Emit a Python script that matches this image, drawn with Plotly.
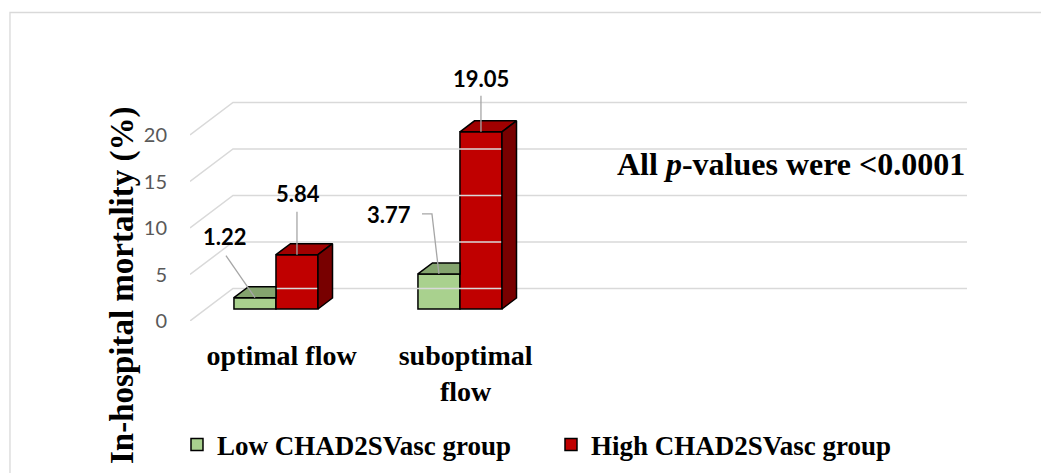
import plotly.graph_objects as go

# ---------------- data ----------------
CATEGORIES = ["optimal flow", "suboptimal flow"]
CATEGORY_LABELS = ["optimal flow", "suboptimal<br>flow"]
SERIES_NAMES = ["Low CHAD2SVasc group", "High CHAD2SVasc group"]
LOW_VALUES = [1.22, 3.77]
HIGH_VALUES = [5.84, 19.05]
Y_TICKS = [0, 5, 10, 15, 20]
NOTE_TEXT = "All <i>p</i>-values were &lt;0.0001"
Y_TITLE = "In-hospital mortality (%)"

# ---------------- pseudo-3D geometry (style) ----------------
DX = 0.2337      # full floor depth, horizontal (x units)
DY = 3.5         # full floor depth, vertical (value units)
D1 = 0.369       # depth fraction of bar front faces
D2 = 0.707       # depth fraction of bar back faces
BAR_W = 0.2283
X_RANGE = [-0.381, 3.842]
Y_RANGE = [0, 24.516]

GREEN = "#A9D18E"
GREEN_TOP = "#84A46E"
RED = "#C00000"
RED_TOP = "#A00000"
RED_SIDE = "#780000"
GRID = "#D9D9D9"
LEADER = "#A6A6A6"
OUTLINE = dict(color="black", width=1.5)

SERIF = "Liberation Serif"
SANS = "Lato"

fig = go.Figure()

# back wall gridlines + floor-side diagonals
gx, gy = [], []
for v in Y_TICKS:
    gx += [X_RANGE[0], X_RANGE[0] + DX, X_RANGE[1], None]
    gy += [v, v + DY, v + DY, None]
fig.add_trace(go.Scatter(x=gx, y=gy, mode="lines", line=dict(color=GRID, width=1.5),
                         hoverinfo="skip", showlegend=False))

n = len(CATEGORIES)
xs = list(range(n))

# front faces as bars
fig.add_trace(go.Bar(x=[i + D1 * DX for i in xs], y=LOW_VALUES, base=D1 * DY,
                     offset=-BAR_W, width=BAR_W, name=SERIES_NAMES[0],
                     marker=dict(color=GREEN, line=OUTLINE)))
fig.add_trace(go.Bar(x=[i + D1 * DX for i in xs], y=HIGH_VALUES, base=D1 * DY,
                     offset=0, width=BAR_W, name=SERIES_NAMES[1],
                     marker=dict(color=RED, line=OUTLINE)))


def face(px, py, color):
    fig.add_trace(go.Scatter(x=px + [px[0]], y=py + [py[0]], mode="lines", fill="toself",
                             fillcolor=color, line=OUTLINE, hoverinfo="skip",
                             showlegend=False))


for i in xs:
    # low bar top face (the part not hidden by the taller high bar)
    xl, xr, v = i - BAR_W, i, LOW_VALUES[i]
    if HIGH_VALUES[i] >= v:
        face([xl + D1 * DX, xr + D1 * DX, xr + D1 * DX, xl + D2 * DX],
             [v + D1 * DY, v + D1 * DY, v + D2 * DY, v + D2 * DY], GREEN_TOP)
    else:
        face([xl + D1 * DX, xr + D1 * DX, xr + D2 * DX, xl + D2 * DX],
             [v + D1 * DY, v + D1 * DY, v + D2 * DY, v + D2 * DY], GREEN_TOP)
    # high bar top + side faces
    xl, xr, v = i, i + BAR_W, HIGH_VALUES[i]
    face([xl + D1 * DX, xr + D1 * DX, xr + D2 * DX, xl + D2 * DX],
         [v + D1 * DY, v + D1 * DY, v + D2 * DY, v + D2 * DY], RED_TOP)
    face([xr + D1 * DX, xr + D2 * DX, xr + D2 * DX, xr + D1 * DX],
         [D1 * DY, D2 * DY, v + D2 * DY, v + D1 * DY], RED_SIDE)

# data labels (pixel shift from the bar's top-front centre) and leader-line paths
LABEL_SHIFTS = {("low", 0): (-30, 61), ("high", 0): (1, 61),
                ("low", 1): (-50, 59), ("high", 1): (0, 53)}
LEADER_PATHS = {("low", 0): "M -29,42 L 0,0", ("high", 0): "M 0,43 L 0,0",
                ("low", 1): "M -17,60 L -7,60 L 0,0", ("high", 1): "M 0,36 L 0,0"}
for i in xs:
    for key, vals, cx in (("low", LOW_VALUES, i - BAR_W / 2), ("high", HIGH_VALUES, i + BAR_W / 2)):
        px_, py_ = cx + D1 * DX, vals[i] + D1 * DY
        sx, sy = LABEL_SHIFTS[(key, i)]
        fig.add_annotation(x=px_, y=py_, xref="x", yref="y", text=f"{vals[i]:.2f}",
                           showarrow=False, xanchor="center", yanchor="middle",
                           xshift=sx, yshift=sy,
                           font=dict(family=SANS, size=22, color="black", weight="bold"))
        fig.add_shape(type="path", xref="x", yref="y", xsizemode="pixel", ysizemode="pixel",
                      xanchor=px_, yanchor=py_, path=LEADER_PATHS[(key, i)],
                      line=dict(color=LEADER, width=1.3), layer="above")

# note
fig.add_annotation(x=0.773, y=0.6886, xref="paper", yref="paper", text=NOTE_TEXT,
                   xanchor="center", yanchor="middle", showarrow=False,
                   font=dict(family=SERIF, size=32, color="black", weight="bold"))

# y title (rotated)
fig.add_annotation(x=-0.0862, y=0.158, xref="paper", yref="paper", text=Y_TITLE,
                   xanchor="center", yanchor="middle", textangle=-90, showarrow=False,
                   font=dict(family=SERIF, size=33, color="black", weight="bold"))

# outer chart border
fig.add_shape(type="rect", xref="paper", yref="paper", x0=-0.2317, x1=1.12, y0=-0.75, y1=1.353,
              line=dict(color=GRID, width=1.3), fillcolor="rgba(0,0,0,0)", layer="below")

fig.update_layout(
    width=1049, height=473, autosize=False,
    margin=dict(l=182, r=90, t=85, b=160, pad=0),
    paper_bgcolor="white", plot_bgcolor="white",
    barmode="overlay", hovermode=False,
    showlegend=True,
    legend=dict(orientation="h", x=0.1611, xref="container", xanchor="left",
                y=0.0761, yref="container", yanchor="middle",
                entrywidth=329, entrywidthmode="pixels",
                font=dict(family=SERIF, size=27, color="black", weight="bold"),
                bgcolor="rgba(0,0,0,0)", itemclick=False, itemdoubleclick=False,
                tracegroupgap=0),
    xaxis=dict(range=X_RANGE, tickvals=[i + 0.5 * DX for i in xs], ticktext=CATEGORY_LABELS,
               showgrid=False, zeroline=False, showline=False, ticks="",
               ticklabelstandoff=15, automargin=False,
               tickfont=dict(family=SERIF, size=28, color="black", weight="bold")),
    yaxis=dict(range=Y_RANGE, tickvals=Y_TICKS, showgrid=False, zeroline=False,
               showline=False, ticks="", ticklabelstandoff=22, automargin=False,
               tickfont=dict(family=SANS, size=20, color="#595959")),
)

fig.write_html("out.html")
